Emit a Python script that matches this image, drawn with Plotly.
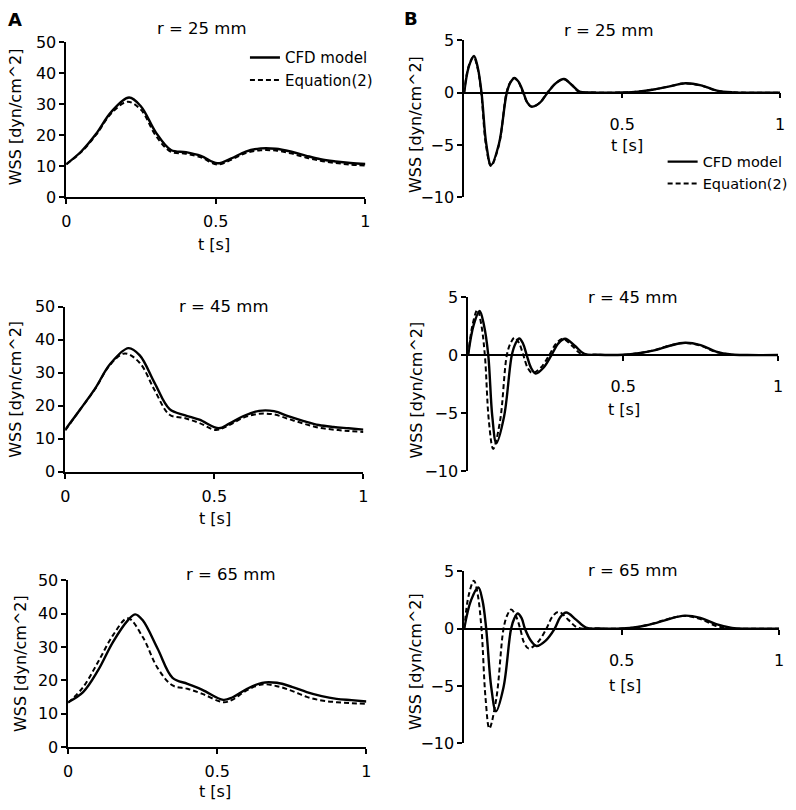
import plotly.graph_objects as go

# ---------------- data ----------------
# Panel A : WSS vs t, r = 25 / 45 / 65 mm
t_a25_cfd = [0, .05, .1, .15, .21, .25, .3, .35, .4, .45, .505, .55, .6, .65, .7, .75, .8, .85, .9, .95, 1]
w_a25_cfd = [10.7, 14.8, 20.5, 27.5, 32.2, 29.3, 20.9, 15.3, 14.6, 13.4, 11.0, 12.5, 14.8, 15.8, 15.7, 14.8, 13.5, 12.3, 11.6, 11.1, 10.8]
t_a25_eq = [0, .05, .1, .15, .205, .25, .3, .35, .4, .45, .505, .55, .6, .65, .7, .75, .8, .85, .9, .95, 1]
w_a25_eq = [10.7, 14.6, 20.2, 27.0, 30.8, 28.2, 19.8, 14.7, 14.1, 12.9, 10.6, 12.1, 14.3, 15.2, 15.1, 14.2, 12.9, 11.8, 11.1, 10.6, 10.3]

t_a45_cfd = [0, .05, .1, .15, .212, .25, .3, .35, .4, .45, .515, .55, .6, .65, .7, .75, .8, .85, .9, .95, 1]
w_a45_cfd = [12.8, 18.9, 25.2, 32.6, 37.5, 35.3, 26.9, 19.0, 17.2, 15.8, 13.2, 14.6, 17.0, 18.5, 18.4, 16.8, 15.4, 14.2, 13.6, 13.2, 12.8]
t_a45_eq = [0, .05, .1, .15, .20, .25, .3, .35, .4, .45, .505, .55, .6, .65, .7, .75, .8, .85, .9, .95, 1]
w_a45_eq = [12.6, 18.9, 25.1, 32.4, 35.9, 33.0, 24.7, 17.3, 16.3, 14.8, 12.7, 14.2, 16.5, 17.6, 17.4, 16.0, 14.6, 13.4, 12.8, 12.4, 12.1]

t_a65_cfd = [0, .05, .1, .15, .2, .225, .25, .3, .35, .4, .45, .52, .55, .6, .65, .7, .75, .8, .85, .9, .95, 1]
w_a65_cfd = [13.5, 16.5, 23.0, 31.5, 38.0, 39.8, 38.0, 29.5, 20.8, 19.0, 17.2, 14.2, 14.9, 17.5, 19.3, 19.3, 18.1, 16.5, 15.3, 14.5, 14.1, 13.7]
t_a65_eq = [0, .05, .1, .15, .2, .25, .3, .35, .4, .45, .52, .55, .6, .65, .7, .75, .8, .85, .9, .95, 1]
w_a65_eq = [13.3, 18.0, 25.5, 33.5, 38.6, 33.0, 23.7, 18.5, 17.5, 16.0, 13.5, 14.2, 17.1, 18.8, 18.3, 16.9, 15.1, 14.0, 13.5, 13.2, 13.0]

# Panel B : oscillating WSS component
t_b25_cfd = [0, .015, .031, .043, .055, .07, .085, .11, .135, .147, .159, .173, .1875, .2, .214, .24, .264, .29, .316, .34, .365, .4, .45, .5, .55, .6, .65, .7, .75, .8, .85, .9, 1]
w_b25_cfd = [0, 2.5, 3.5, 2.4, 0, -4.9, -6.9, -4.9, 0, 1.0, 1.4, 1.0, 0, -0.95, -1.33, -0.95, 0, 0.9, 1.3, 0.75, 0.1, 0.02, 0, 0.02, 0.1, 0.3, 0.6, 0.9, 0.7, 0.2, 0.03, 0, 0]
t_b25_eq = [0, .014, .030, .042, .054, .069, .085, .11, .134, .146, .158, .172, .186, .2, .213, .24, .263, .29, .315, .34, .363, .4, .45, .5, .55, .6, .65, .7, .75, .8, .85, .9, 1]
w_b25_eq = [0, 2.5, 3.4, 2.4, 0, -5.0, -7.0, -5.0, 0, 1.0, 1.4, 1.0, 0, -0.95, -1.35, -0.95, 0, 0.9, 1.3, 0.75, 0.1, 0.02, 0, 0.02, 0.1, 0.3, 0.6, 0.88, 0.68, 0.18, 0.03, 0, 0]

t_b45_cfd = [0, .018, .037, .051, .065, .078, .091, .116, .141, .153, .165, .177, .189, .203, .218, .243, .269, .291, .313, .344, .375, .42, .5, .55, .6, .65, .7, .75, .8, .85, .9, 1]
w_b45_cfd = [0, 2.6, 3.8, 2.6, 0, -5.3, -7.6, -5.3, 0, 1.0, 1.43, 1.0, 0, -1.1, -1.6, -1.1, 0, 1.0, 1.4, 0.8, 0.1, 0.02, 0.02, 0.15, 0.4, 0.8, 1.06, 0.85, 0.3, 0.05, 0, 0]
t_b45_eq = [0, .015, .03, .042, .054, .067, .081, .103, .125, .1375, .15, .164, .178, .192, .207, .234, .262, .284, .306, .335, .365, .42, .5, .55, .6, .65, .7, .75, .8, .85, .9, 1]
w_b45_eq = [0, 2.7, 3.9, 2.7, 0, -5.7, -8.1, -5.7, 0, 1.05, 1.5, 1.05, 0, -1.1, -1.55, -1.1, 0, 1.0, 1.4, 0.8, 0.1, 0.02, 0.02, 0.15, 0.42, 0.82, 1.04, 0.8, 0.25, 0.03, 0, 0]

t_b65_cfd = [0, .022, .045, .058, .07, .086, .101, .125, .149, .16, .17, .182, .193, .212, .23, .258, .287, .305, .324, .355, .387, .43, .5, .55, .6, .65, .7, .75, .8, .85, .9, 1]
w_b65_cfd = [0, 2.5, 3.6, 2.5, 0, -5.1, -7.2, -5.1, 0, 0.95, 1.34, 0.95, 0, -1.05, -1.5, -1.05, 0, 1.0, 1.42, 0.8, 0.1, 0.02, 0.02, 0.15, 0.45, 0.85, 1.15, 0.95, 0.4, 0.08, 0.01, 0]
t_b65_eq = [0, .015, .031, .043, .055, .068, .08, .102, .125, .137, .149, .163, .178, .19, .205, .233, .261, .28, .3, .33, .36, .42, .5, .55, .6, .65, .7, .75, .8, .85, .9, 1]
w_b65_eq = [0, 3.0, 4.2, 3.0, 0, -6.1, -8.7, -6.1, 0, 1.2, 1.68, 1.2, 0, -1.2, -1.73, -1.2, 0, 1.05, 1.48, 0.8, 0.1, 0.02, 0.02, 0.15, 0.45, 0.88, 1.12, 0.85, 0.25, 0.03, 0, 0]

panel_titles = ["r = 25 mm", "r = 45 mm", "r = 65 mm"]
series_names = ["CFD model", "Equation(2)"]
x_tick_vals_a = [0, 0.5, 1]
x_tick_text_a = ["0", "0.5", "1"]
x_tick_vals_b = [0.5, 1]
x_tick_text_b = ["0.5", "1"]
y_tick_vals_a = [0, 10, 20, 30, 40, 50]
y_tick_vals_b = [-10, -5, 0, 5]

# ---------------- layout helpers ----------------
W, H = 796, 810
FONT = "DejaVu Sans"


def fx(px):
    return px / W


def fy(py):
    return 1 - py / H


# panel boxes in pixels: (x0, x1, ytop, ybottom)
boxes = {
    "A1": (62, 365, 34, 193), "A2": (61, 363, 305, 474), "A3": (64, 366, 585, 756),
    "B1": (465, 785, 32, 193), "B2": (469, 783, 295, 473), "B3": (465, 784, 576, 752),
}
panels = [
    ("A1", t_a25_cfd, w_a25_cfd, t_a25_eq, w_a25_eq, "legend"),
    ("B1", t_b25_cfd, w_b25_cfd, t_b25_eq, w_b25_eq, "legend2"),
    ("A2", t_a45_cfd, w_a45_cfd, t_a45_eq, w_a45_eq, None),
    ("B2", t_b45_cfd, w_b45_cfd, t_b45_eq, w_b45_eq, None),
    ("A3", t_a65_cfd, w_a65_cfd, t_a65_eq, w_a65_eq, None),
    ("B3", t_b65_cfd, w_b65_cfd, t_b65_eq, w_b65_eq, None),
]

fig = go.Figure()
layout = {}
tickfont = dict(family=FONT, size=16, color="black")

for i, (key, tc, wc, te, we, leg) in enumerate(panels, start=1):
    xa = "x" if i == 1 else f"x{i}"
    ya = "y" if i == 1 else f"y{i}"
    x0, x1, yt, yb = boxes[key]
    isB = key.startswith("B")
    yr = [-10, 5] if isB else [0, 50]
    yd = [fy(yb), fy(yt)]
    for name, tt, ww, dash, width in [(series_names[0], tc, wc, "solid", 2.4),
                                      (series_names[1], te, we, "5px,3px", 2.0)]:
        if leg:
            kw = dict(legend=leg, showlegend=True)
        else:
            kw = dict(legend="legend3", showlegend=False)
        fig.add_trace(go.Scatter(
            x=tt, y=ww, mode="lines", name=name, xaxis=xa, yaxis=ya,
            line=dict(color="black", width=width, dash=dash, shape="spline", smoothing=1.0),
            hoverinfo="skip", **kw))
    xkey = "xaxis" if i == 1 else f"xaxis{i}"
    ykey = "yaxis" if i == 1 else f"yaxis{i}"
    xcfg = dict(domain=[fx(x0), fx(x1)], range=[0, 1], showgrid=False, zeroline=False,
                showline=True, linecolor="black", linewidth=1.5, ticks="outside",
                ticklen=5, tickwidth=1.5, tickcolor="black", tickfont=tickfont,
                fixedrange=True)
    if isB:
        pos = yd[0] + (0 - yr[0]) / (yr[1] - yr[0]) * (yd[1] - yd[0])
        xcfg.update(anchor="free", position=pos, tickvals=x_tick_vals_b,
                    ticktext=x_tick_text_b, ticklabelstandoff=12)
    else:
        xcfg.update(anchor=ya, tickvals=x_tick_vals_a, ticktext=x_tick_text_a,
                    ticklabelstandoff=4)
    ycfg = dict(domain=yd, range=yr, anchor=xa, showgrid=False, zeroline=False,
                showline=True, linecolor="black", linewidth=1.5, ticks="outside",
                ticklen=5, tickwidth=1.5, tickcolor="black", tickfont=tickfont,
                tickvals=y_tick_vals_b if isB else y_tick_vals_a, fixedrange=True)
    layout[xkey] = xcfg
    layout[ykey] = ycfg

ann = []
title_pos = {"A1": (199, 20), "B1": (612, 22), "A2": (222, 305), "B2": (636, 295),
             "A3": (229, 579), "B3": (636, 575)}
for key, (cx, cy) in title_pos.items():
    idx = int(key[1]) - 1
    ann.append(dict(x=fx(cx), y=fy(cy), xref="paper", yref="paper", text=panel_titles[idx],
                    showarrow=False, xanchor="center", yanchor="middle",
                    font=dict(family=FONT, size=16.5, color="black")))
xt_pos = {"A1": (212, 241), "B1": (630, 140), "A2": (213, 522), "B2": (627, 410),
          "A3": (213, 801), "B3": (628, 693)}
for key, (cx, cy) in xt_pos.items():
    ann.append(dict(x=fx(cx), y=fy(cy), xref="paper", yref="paper", text="t [s]",
                    showarrow=False, xanchor="center", yanchor="middle", borderpad=0,
                    font=dict(family=FONT, size=16, color="black")))
yt_pos = {"A1": (11, 110), "B1": (415, 118), "A2": (11, 389), "B2": (417, 390),
          "A3": (15, 670), "B3": (416, 668)}
for key, (cx, cy) in yt_pos.items():
    ann.append(dict(x=fx(cx), y=fy(cy), xref="paper", yref="paper", text="WSS [dyn/cm^2]",
                    showarrow=False, xanchor="center", yanchor="middle", textangle=-90,
                    font=dict(family=FONT, size=16, color="black")))
ann.append(dict(x=fx(10), y=fy(11), xref="paper", yref="paper", text="<b>A</b>",
                showarrow=False, xanchor="center", yanchor="middle",
                font=dict(family=FONT, size=18, color="black")))
ann.append(dict(x=fx(411), y=fy(10), xref="paper", yref="paper", text="<b>B</b>",
                showarrow=False, xanchor="center", yanchor="middle",
                font=dict(family=FONT, size=18, color="black")))

fig.update_layout(
    width=W, height=H, margin=dict(l=0, r=0, t=0, b=0),
    paper_bgcolor="white", plot_bgcolor="white",
    annotations=ann,
    legend=dict(x=fx(243), y=fy(33), xanchor="left", yanchor="top",
                font=dict(family=FONT, size=15, color="black"),
                bgcolor="rgba(0,0,0,0)"),
    legend2=dict(x=fx(666), y=fy(140), xanchor="left", yanchor="top",
                 font=dict(family=FONT, size=14.5, color="black"),
                 bgcolor="rgba(0,0,0,0)"),
    legend3=dict(visible=False),
    **layout,
)

fig.write_html(
    "out.html",
    config={"displayModeBar": False},
    post_script=(
        "document.documentElement.style.margin='0';"
        "document.body.style.margin='0';document.body.style.padding='0';"
        "document.body.style.overflow='hidden';"
        "var gd=document.getElementById('{plot_id}');"
        "gd.style.position='fixed';gd.style.left='0px';gd.style.top='0px';"
    ),
)
